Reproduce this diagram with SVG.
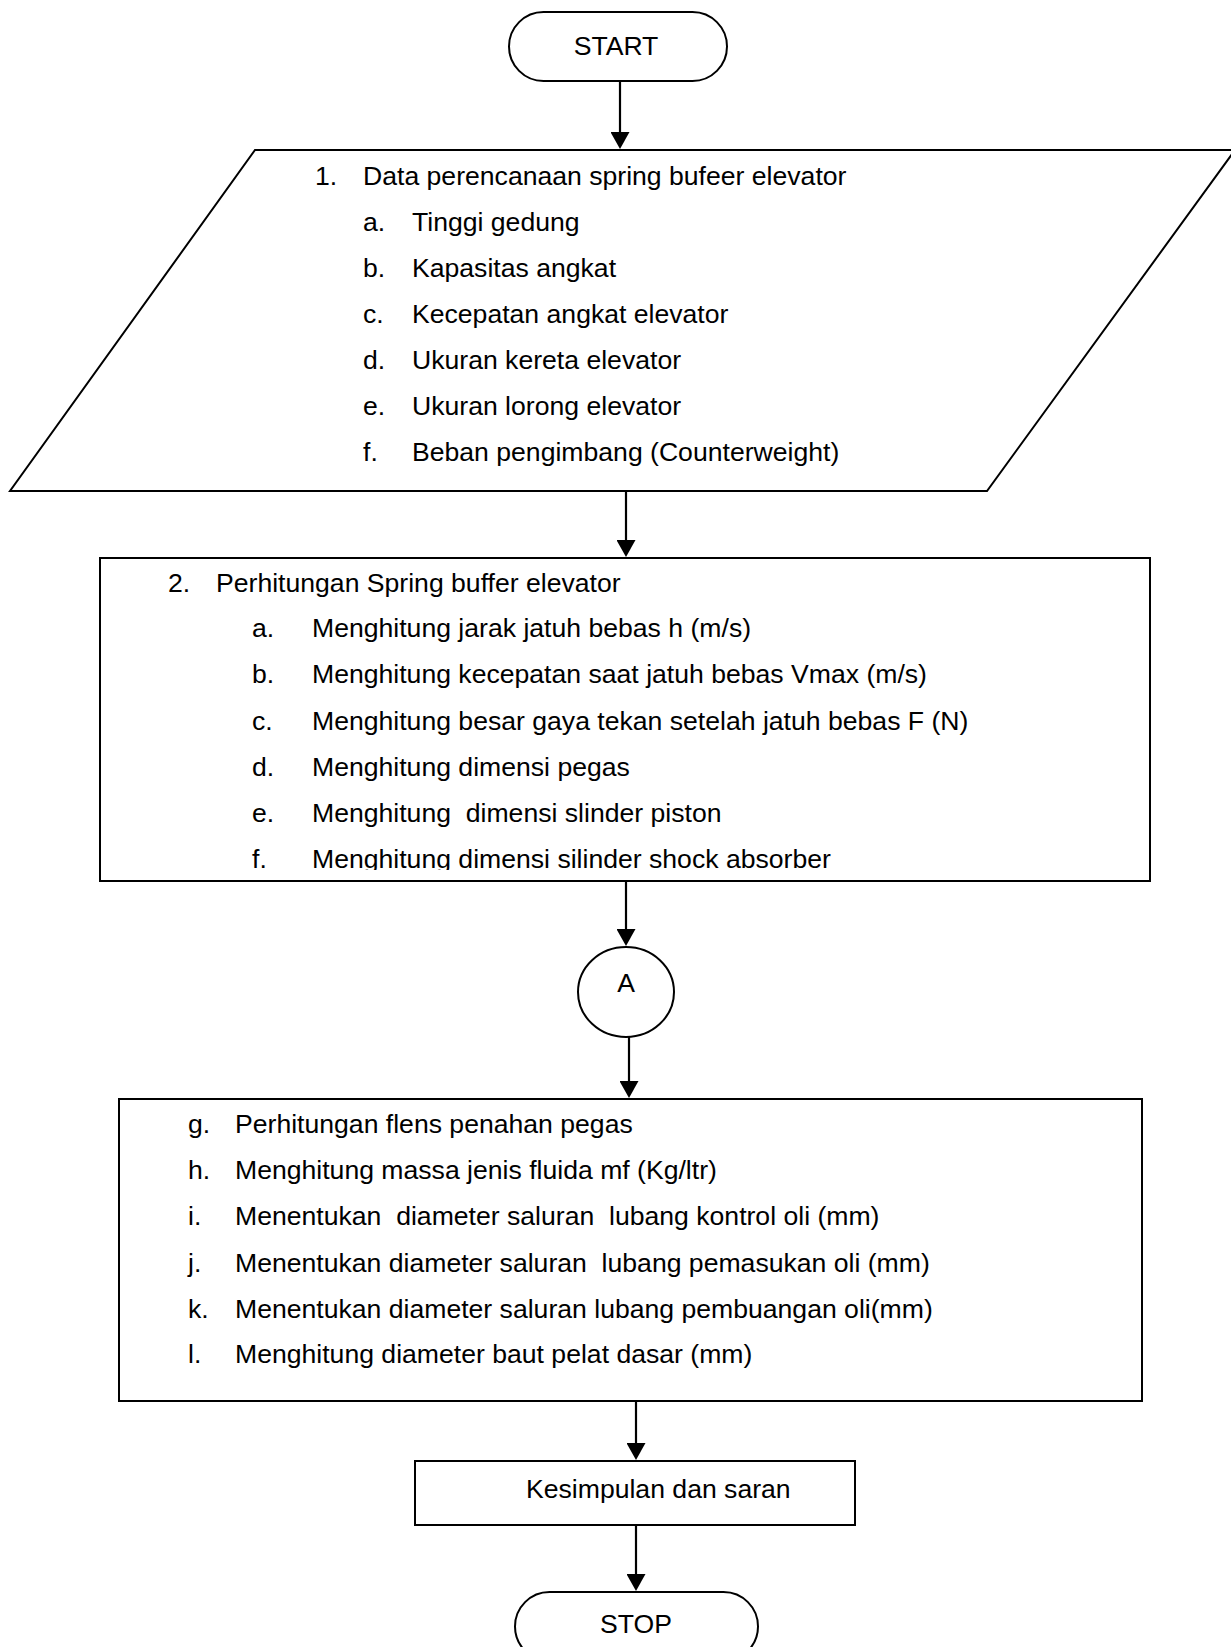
<svg xmlns="http://www.w3.org/2000/svg" width="1231" height="1647" viewBox="0 0 1231 1647">
<style>
  .shape { fill: #fff; stroke: #000; stroke-width: 2; }
  .t { font-family: "Liberation Sans", Arial, sans-serif; font-size: 26.6px; fill: #000; white-space: pre; }
  .c { text-anchor: middle; }
  .conn { stroke: #000; stroke-width: 2.2; fill: none; marker-end: url(#arrow); }
</style>
<defs>
  <marker id="arrow" markerUnits="userSpaceOnUse" markerWidth="19" markerHeight="19" refX="13" refY="9.5" orient="auto">
    <path d="M0,0 L17,9.5 L0,19 z" fill="#000"/>
  </marker>
  <clipPath id="clip2"><rect x="100" y="558" width="1050" height="312"/></clipPath>
</defs>
<rect width="1231" height="1647" fill="#fff"/>

<g id="connectors">
  <line class="conn" x1="620" y1="81" x2="620" y2="145"/>
  <line class="conn" x1="626" y1="491" x2="626" y2="553"/>
  <line class="conn" x1="626" y1="881" x2="626" y2="942"/>
  <line class="conn" x1="629" y1="1037" x2="629" y2="1094"/>
  <line class="conn" x1="636" y1="1401" x2="636" y2="1456"/>
  <line class="conn" x1="636" y1="1525" x2="636" y2="1587"/>
</g>

<g id="start">
  <rect class="shape" x="509" y="12" width="218" height="69" rx="34.5" ry="34.5"/>
  <text class="t c" x="616" y="55">START</text>
</g>

<g id="input-data">
  <polygon class="shape" points="255,150 1235,150 987,491 10,491"/>
  <text class="t" x="315" y="185">1.</text>
  <text class="t" x="363" y="185">Data perencanaan spring bufeer elevator</text>
  <text class="t" x="363" y="231">a.</text>
  <text class="t" x="412" y="231">Tinggi gedung</text>
  <text class="t" x="363" y="277">b.</text>
  <text class="t" x="412" y="277">Kapasitas angkat</text>
  <text class="t" x="363" y="323">c.</text>
  <text class="t" x="412" y="323">Kecepatan angkat elevator</text>
  <text class="t" x="363" y="369">d.</text>
  <text class="t" x="412" y="369">Ukuran kereta elevator</text>
  <text class="t" x="363" y="415">e.</text>
  <text class="t" x="412" y="415">Ukuran lorong elevator</text>
  <text class="t" x="363" y="461">f.</text>
  <text class="t" x="412" y="461">Beban pengimbang (Counterweight)</text>
</g>

<g id="calc-spring">
  <rect class="shape" x="100" y="558" width="1050" height="323"/>
  <g clip-path="url(#clip2)">
    <text class="t" x="168" y="592">2.</text>
    <text class="t" x="216" y="592">Perhitungan Spring buffer elevator</text>
    <text class="t" x="252" y="637">a.</text>
    <text class="t" x="312" y="637">Menghitung jarak jatuh bebas h (m/s)</text>
    <text class="t" x="252" y="683">b.</text>
    <text class="t" x="312" y="683">Menghitung kecepatan saat jatuh bebas Vmax (m/s)</text>
    <text class="t" x="252" y="730">c.</text>
    <text class="t" x="312" y="730">Menghitung besar gaya tekan setelah jatuh bebas F (N)</text>
    <text class="t" x="252" y="776">d.</text>
    <text class="t" x="312" y="776">Menghitung dimensi pegas</text>
    <text class="t" x="252" y="822">e.</text>
    <text class="t" x="312" y="822">Menghitung  dimensi slinder piston</text>
    <text class="t" x="252" y="868">f.</text>
    <text class="t" x="312" y="868">Menghitung dimensi silinder shock absorber</text>
  </g>
</g>

<g id="connector-a">
  <ellipse class="shape" cx="626" cy="992" rx="48" ry="45"/>
  <text class="t c" x="626" y="992">A</text>
</g>

<g id="calc-continued">
  <rect class="shape" x="119" y="1099" width="1023" height="302"/>
  <text class="t" x="188" y="1133">g.</text>
  <text class="t" x="235" y="1133">Perhitungan flens penahan pegas</text>
  <text class="t" x="188" y="1179">h.</text>
  <text class="t" x="235" y="1179">Menghitung massa jenis fluida mf (Kg/ltr)</text>
  <text class="t" x="188" y="1225">i.</text>
  <text class="t" x="235" y="1225">Menentukan  diameter saluran  lubang kontrol oli (mm)</text>
  <text class="t" x="188" y="1272">j.</text>
  <text class="t" x="235" y="1272">Menentukan diameter saluran  lubang pemasukan oli (mm)</text>
  <text class="t" x="188" y="1318">k.</text>
  <text class="t" x="235" y="1318">Menentukan diameter saluran lubang pembuangan oli(mm)</text>
  <text class="t" x="188" y="1363">l.</text>
  <text class="t" x="235" y="1363">Menghitung diameter baut pelat dasar (mm)</text>
</g>

<g id="conclusion">
  <rect class="shape" x="415" y="1461" width="440" height="64"/>
  <text class="t" x="526" y="1498">Kesimpulan dan saran</text>
</g>

<g id="stop">
  <rect class="shape" x="515" y="1592" width="243" height="69" rx="34.5" ry="34.5"/>
  <text class="t c" x="636" y="1633">STOP</text>
</g>
</svg>
